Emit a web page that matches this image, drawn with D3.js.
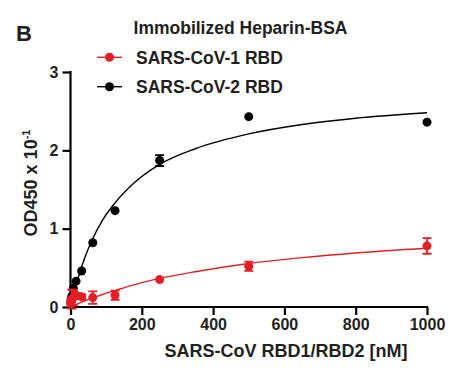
<!DOCTYPE html>
<html lang="en">
<head>
    <meta charset="UTF-8">
    <title>Immobilized Heparin-BSA</title>
    <script src="https://d3js.org/d3.v7.min.js"></script>
    <style>
        body { margin: 0; background: #fff; }
        svg text { font-family: "Liberation Sans", Arial, sans-serif; font-weight: bold; fill: #231f20; }
    </style>
</head>
<body>
<div id="chart"></div>
<script>
    // Concentrations in nM
    const conc = [1000, 500, 250, 125, 62.5, 31.25, 15.6, 7.8, 3.9, 1.95, 0.98];

    // OD450 x 10^-1
    const cov1 = [0.78, 0.52, 0.35, 0.15, 0.12, 0.13, 0.15, 0.12, 0.10, 0.07, 0.05];
    const cov1Err = [0.10, 0.06, 0, 0.06, 0.08, 0.03, 0.03, 0.10, 0.12, 0.05, 0.03];
    const cov2 = [2.36, 2.43, 1.87, 1.23, 0.82, 0.46, 0.33, 0.24, 0.14, 0.10, 0.06];
    const cov2Err = [0, 0, 0.07, 0, 0, 0, 0, 0, 0, 0, 0];

    // fitted curves
    const fitX = [0, 10, 20, 40, 60, 90, 125, 175, 250, 350, 500, 650, 800, 1000];
    const fit1 = [0, 0.02, 0.04, 0.08, 0.11, 0.16, 0.21, 0.28, 0.365, 0.45, 0.555, 0.63, 0.69, 0.75];
    const fit2 = [0, 0.19, 0.35, 0.63, 0.85, 1.11, 1.33, 1.57, 1.82, 2.02, 2.21, 2.33, 2.41, 2.48];

    const xTicks = [0, 200, 400, 600, 800, 1000];
    const yTicks = [0, 1, 2, 3];
    const seriesNames = ['SARS-CoV-1 RBD', 'SARS-CoV-2 RBD'];

    const red = '#e31f26';
    const black = '#000';

    const width = 462, height = 374;

    const svg = d3.select('#chart').append('svg')
        .attr('width', width)
        .attr('height', height);

    const x = d3.scaleLinear().domain([0, 1000]).range([70.5, 427]);
    const y = d3.scaleLinear().domain([0, 3]).range([307, 72]);

    // Axes
    const xAxis = svg.append('g')
        .attr('transform', `translate(0,${y(0)})`)
        .call(d3.axisBottom(x).tickValues(xTicks).tickFormat(d3.format('d'))
            .tickSize(8).tickPadding(4).tickSizeOuter(0));
    const yAxis = svg.append('g')
        .attr('transform', `translate(${x(0)},0)`)
        .call(d3.axisLeft(y).tickValues(yTicks).tickFormat(d3.format('d'))
            .tickSize(8).tickPadding(4).tickSizeOuter(0));

    [xAxis, yAxis].forEach(g => {
        g.select('.domain').attr('stroke', '#000').attr('stroke-width', 2.2);
        g.selectAll('.tick line').attr('stroke', '#000').attr('stroke-width', 2.2);
        g.selectAll('.tick text').style('font-size', '16px').attr('fill', '#231f20');
    });
    // extend domains so the corner is square
    xAxis.select('.domain').attr('d', `M${x(0) - 1},0H${x(1000) + 1}`);
    yAxis.select('.domain').attr('d', `M0,${y(0) + 1}V${y(3) - 1}`);

    // Fitted curves
    const line = (vals) => d3.line()
        .x((d, i) => x(fitX[i]))
        .y(d => y(d))
        .curve(d3.curveMonotoneX)(vals);

    svg.append('path').attr('d', line(fit2))
        .attr('fill', 'none').attr('stroke', black).attr('stroke-width', 1.4);
    svg.append('path').attr('d', line(fit1))
        .attr('fill', 'none').attr('stroke', red).attr('stroke-width', 1.4);

    function drawPoints(vals, errs, color) {
        const data = conc.map((c, i) => ({ c: c, v: vals[i], e: errs[i] }));
        const g = svg.append('g');
        const withErr = data.filter(d => d.e > 0);
        g.selectAll('.err')
            .data(withErr)
            .enter().append('path')
            .attr('d', d => {
                const cx = x(d.c), y1 = y(d.v + d.e), y2 = y(d.v - d.e);
                return `M${cx},${y1}V${y2}M${cx - 4.5},${y1}H${cx + 4.5}M${cx - 4.5},${y2}H${cx + 4.5}`;
            })
            .attr('stroke', color)
            .attr('stroke-width', 1.8)
            .attr('fill', 'none');
        g.selectAll('circle')
            .data(data)
            .enter().append('circle')
            .attr('cx', d => x(d.c))
            .attr('cy', d => y(d.v))
            .attr('r', 4.5)
            .attr('fill', color);
    }

    drawPoints(cov2, cov2Err, black);
    drawPoints(cov1, cov1Err, red);

    // Panel letter and title
    svg.append('text').attr('x', 16).attr('y', 41)
        .style('font-size', '22px').text('B');
    svg.append('text').attr('x', 240.5).attr('y', 33.5)
        .attr('text-anchor', 'middle')
        .style('font-size', '17.5px')
        .text('Immobilized Heparin-BSA');

    // Legend
    const legend = svg.append('g');
    [red, black].forEach((col, i) => {
        const ly = 57.3 + i * 29.4;
        legend.append('line')
            .attr('x1', 97).attr('x2', 122)
            .attr('y1', ly).attr('y2', ly)
            .attr('stroke', col).attr('stroke-width', 1.4);
        legend.append('circle')
            .attr('cx', 109.5).attr('cy', ly).attr('r', 4.5)
            .attr('fill', col);
        legend.append('text')
            .attr('x', 136).attr('y', ly + 6.3)
            .style('font-size', '17.5px')
            .text(seriesNames[i]);
    });

    // Axis titles
    svg.append('text')
        .attr('x', 286).attr('y', 357)
        .attr('text-anchor', 'middle')
        .style('font-size', '18px')
        .text('SARS-CoV RBD1/RBD2 [nM]');

    const yLab = svg.append('text')
        .attr('transform', `translate(37,${183}) rotate(-90)`)
        .attr('text-anchor', 'middle')
        .style('font-size', '18px');
    yLab.append('tspan').text('OD450 x 10');
    yLab.append('tspan').attr('dy', -7).style('font-size', '11px').text('-1');
</script>
</body>
</html>
